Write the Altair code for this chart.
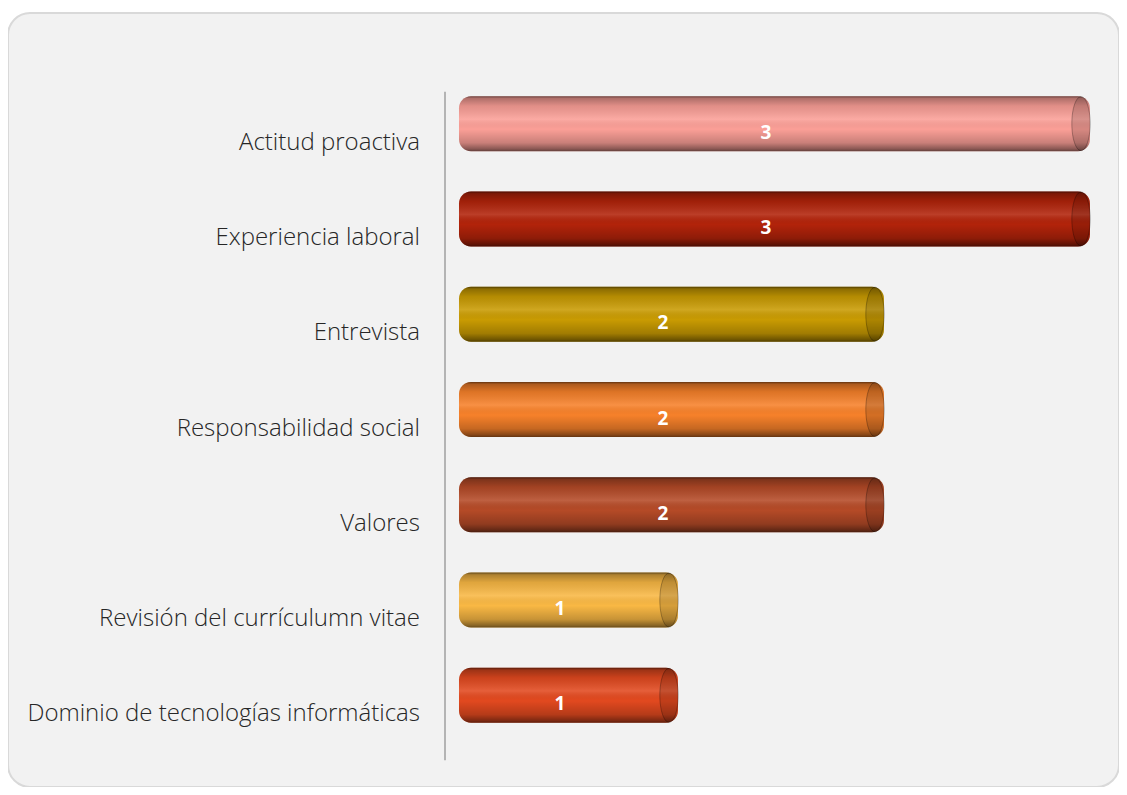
import altair as alt
import pandas as pd

categories = [
    "Actitud proactiva",
    "Experiencia laboral",
    "Entrevista",
    "Responsabilidad social",
    "Valores",
    "Revisión del currículumn vitae",
    "Dominio de tecnologías informáticas",
]
values = [3, 3, 2, 2, 2, 1, 1]
colors = ["#fb9f97", "#b2230a", "#c99b02", "#f7812a", "#b54a27", "#f9b844", "#e2491f"]

df = pd.DataFrame({"cat": categories, "value": values, "zero": [0] * len(values)})
df["half"] = df["value"] / 2

xscale = alt.Scale(domain=[-2.2524, 3.1408], nice=False, zero=False)
yscale = alt.Scale(domain=categories, range=[63, 730], paddingInner=0, paddingOuter=0)

base = alt.Chart(df)
Y = alt.Y("cat:N", sort=categories, scale=yscale, axis=None)
X = alt.X("value:Q", scale=xscale, axis=None)

bars = base.mark_bar(size=55, cornerRadius=12, x2Offset=-13).encode(
    x=X,
    x2="zero:Q",
    y=Y,
    color=alt.Color("cat:N", scale=alt.Scale(domain=categories, range=colors), legend=None),
)

shade = {
    "gradient": "linear", "x1": 0, "y1": 0, "x2": 0, "y2": 1,
    "stops": [
        {"offset": 0, "color": "rgba(0,0,0,0.6)"},
        {"offset": 0.04, "color": "rgba(0,0,0,0.3)"},
        {"offset": 0.18, "color": "rgba(0,0,0,0.1)"},
        {"offset": 0.42, "color": "rgba(255,255,255,0.12)"},
        {"offset": 0.6, "color": "rgba(0,0,0,0.0)"},
        {"offset": 0.85, "color": "rgba(0,0,0,0.2)"},
        {"offset": 0.96, "color": "rgba(0,0,0,0.45)"},
        {"offset": 1, "color": "rgba(0,0,0,0.6)"},
    ],
}

overlay = base.mark_bar(size=55, cornerRadius=12, x2Offset=-13, color=shade).encode(
    x=X,
    x2="zero:Q",
    y=Y,
)

ellipse = "M 0 -1 A 0.34 1 0 1 1 0 1 A 0.34 1 0 1 1 0 -1 Z"
cap = base.mark_point(
    shape=ellipse, size=2916, filled=True, xOffset=-9,
    fill="rgba(0,0,0,0.14)", stroke="rgba(0,0,0,0.28)", strokeWidth=1, opacity=1,
).encode(
    x=X,
    y=Y,
)

nums = base.mark_text(
    color="white", fontWeight="bold", fontSize=19, font="Open Sans", dx=-15, dy=9,
    baseline="middle", align="center",
).encode(
    x=alt.X("half:Q", scale=xscale, axis=None),
    y=Y,
    text="value:Q",
)

labels = base.mark_text(
    align="right", baseline="middle", dx=-52, dy=19, fontSize=24, font="Open Sans",
    fontWeight=300, color="#262626",
).encode(
    x=alt.X("zero:Q", scale=xscale, axis=None),
    y=Y,
    text="cat:N",
)

axis_df = pd.DataFrame({"zero": [0], "first": [categories[0]], "last": [categories[-1]]})
axis_line = alt.Chart(axis_df).mark_rule(
    color="#b4b4b4", strokeWidth=2, xOffset=-27, yOffset=-32, y2Offset=65,
).encode(
    x=alt.X("zero:Q", scale=xscale, axis=None),
    y=alt.Y("first:N", scale=yscale, axis=None),
    y2="last:N",
)

chart = alt.layer(axis_line, bars, overlay, cap, nums, labels).properties(
    width=1111, height=774,
    padding={"left": 0, "top": 5, "right": 0, "bottom": 0},
    background="white",
).configure_view(
    fill="#f2f2f2", stroke="#d9d9d9", strokeWidth=2, cornerRadius=22,
)

chart.save("out.html", embed_options={"renderer": "svg", "actions": False})
